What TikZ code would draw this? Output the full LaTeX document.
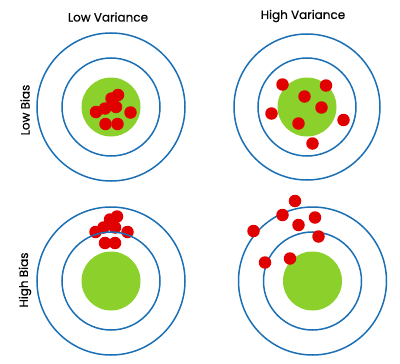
\documentclass[tikz,border=0pt]{standalone}
\usepackage{fontspec}
\setmainfont{Poppins}
\newfontfamily\headfont{Poppins}[FakeBold=0.5]
\usetikzlibrary{positioning}
\definecolor{ringblue}{HTML}{1B6FB4}
\definecolor{bullgreen}{HTML}{8CD12B}
\definecolor{hitred}{HTML}{E00000}
\tikzset{
  ring/.style={circle, draw=ringblue, line width=1.5pt, minimum size=#1, inner sep=0pt},
  bull/.style={circle, fill=bullgreen, minimum size=59pt, inner sep=0pt},
  hit/.style={circle, fill=hitred, minimum size=12.5pt, inner sep=0pt},
  head/.style={font=\headfont\fontsize{12}{14}\selectfont},
}

\begin{document}
\begin{tikzpicture}[x=1pt, y=-1pt]
\useasboundingbox (0,0) rectangle (400,364);

% Headings
\node[head] (lowvar) at (108,17) {Low Variance};
\node[head] (highvar) at (303,16) {High Variance};
\node[head, rotate=90] (lowbias) at (25,110) {Low Bias};
\node[head, rotate=90] (highbias) at (25,280) {High Bias};

% Low bias, low variance
\node[ring=148pt] (aout) at (111,107) {};
\node[ring=98pt] (ain) at (111,107) {};
\node[bull] (abull) at (111,107) {};
\foreach \x/\y [count=\i] in {118/95, 111.5/98.5, 116/107, 105/108.5, 96/112, 130.5/112.5, 105.5/124, 117.5/124}
  \node[hit] (a\i) at (\x,\y) {};

% Low bias, high variance
\node[ring=146pt] (bout) at (307,107) {};
\node[ring=98pt] (bin) at (307,107) {};
\node[bull] (bbull) at (307,107) {};
\foreach \x/\y [count=\i] in {282.5/84.5, 326/85.5, 304.5/96.5, 321.5/107.5, 271.5/113.5, 298.5/123.5, 343.5/120, 312.5/143.5}
  \node[hit] (b\i) at (\x,\y) {};

% High bias, low variance
\node[bull] (cbull) at (111,281) {};
\foreach \x/\y [count=\i] in {117/216.5, 110/219.5, 103.5/227.5, 115/227.5, 95.5/232, 127.5/232, 105/243, 115/243}
  \node[hit] (c\i) at (\x,\y) {};
\node[ring=148pt] (cout) at (111,281) {};
\node[ring=98pt] (cin) at (111,281) {};

% High bias, high variance
\node[ring=148pt] (dout) at (312.5,281) {};
\node[ring=98pt] (din) at (312.5,281) {};
\node[bull] (dbull) at (312.5,281) {};
\foreach \x/\y [count=\i] in {295/201, 282.5/215, 315/217.5, 298.5/225, 253.5/231, 318.5/236.5, 290/258.5, 265/262.5}
  \node[hit] (d\i) at (\x,\y) {};

\end{tikzpicture}
\end{document}
